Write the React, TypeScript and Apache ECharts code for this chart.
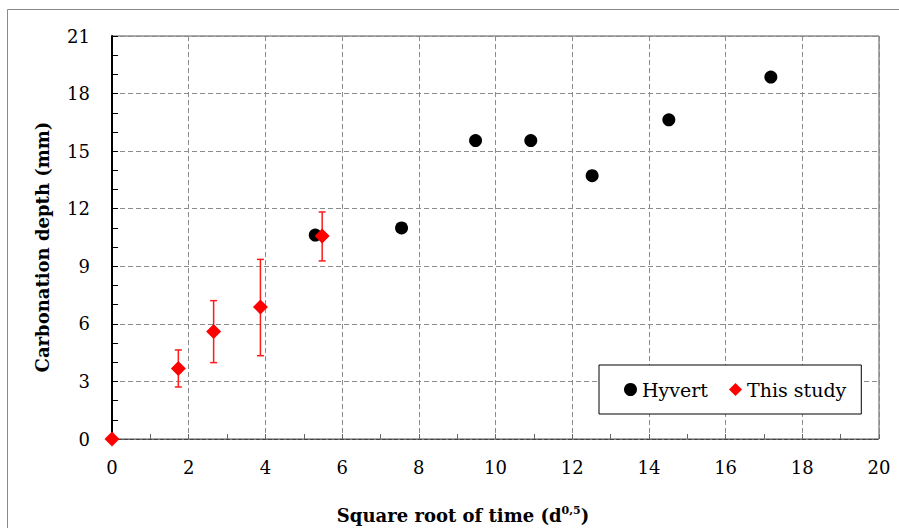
import React, { useEffect, useRef } from "react";
import * as echarts from "echarts";

const hyvertX = [5.3, 7.55, 9.48, 10.92, 12.52, 14.52, 17.18];
const hyvertY = [10.63, 11.0, 15.55, 15.55, 13.72, 16.63, 18.86];

const studyX = [0, 1.73, 2.65, 3.87, 5.48];
const studyY = [0, 3.67, 5.6, 6.88, 10.58];
const studyLow = [0, 2.71, 3.98, 4.34, 9.28];
const studyHigh = [0, 4.64, 7.21, 9.36, 11.83];

const xTitle = "Square root of time (d";
const xTitleSup = "0,5";
const yTitle = "Carbonation depth (mm)";

const FONT = "DejaVu Serif";

export default function App() {
  const ref = useRef<HTMLDivElement>(null);
  useEffect(() => {
    const chart = echarts.init(ref.current!, null, { renderer: "svg" });
    const errData = studyX
      .map((x, i) => [x, studyLow[i], studyHigh[i]])
      .filter((d) => d[2] > d[1]);
    chart.setOption({
      animation: false,
      backgroundColor: "#fff",
      textStyle: { fontFamily: FONT },
      grid: {
        left: 112,
        right: 20,
        top: 36,
        bottom: 89,
        show: true,
        borderColor: "#555",
        borderWidth: 1,
      },
      graphic: [
        {
          type: "rect",
          shape: { x: 7.5, y: 9.5, width: 1000, height: 1000 },
          style: { fill: "none", stroke: "#8a8a8a", lineWidth: 1 },
          silent: true,
          z: -1,
        },
        {
          type: "text",
          x: 463,
          y: 515,
          style: {
            text: "{b|" + xTitle + "}{sup|" + xTitleSup + "}{b|)}",
            align: "center",
            verticalAlign: "middle",
            rich: {
              b: { fontFamily: FONT, fontSize: 18, fontWeight: "bold", fill: "#000", color: "#000" },
              sup: { fontFamily: FONT, fontSize: 11, fontWeight: "bold", fill: "#000", color: "#000", verticalAlign: "top", padding: [0, 0, 9, 0] },
            },
          },
        },
        {
          type: "text",
          x: 42,
          y: 247,
          rotation: Math.PI / 2,
          style: {
            text: yTitle,
            align: "center",
            verticalAlign: "middle",
            fontFamily: FONT,
            fontSize: 18,
            fontWeight: "bold",
            fill: "#000",
          },
        },
      ],
      legend: {
        left: 599,
        top: 365,
        orient: "horizontal",
        backgroundColor: "#fff",
        borderColor: "#000",
        borderWidth: 1,
        padding: [15, 15, 15, 25],
        itemGap: 21,
        itemWidth: 13,
        itemHeight: 13,
        textStyle: { fontFamily: FONT, fontSize: 19, color: "#000" },
        data: [
          { name: "Hyvert", icon: "circle" },
          { name: "This study", icon: "diamond" },
        ],
      },
      xAxis: {
        type: "value",
        min: 0,
        max: 20,
        interval: 2,
        axisLine: { show: true, lineStyle: { color: "#444", type: "dashed", width: 1 } },
        axisTick: { show: true, inside: true, length: 5, lineStyle: { color: "#666" } },
        minorTick: { show: true, splitNumber: 2, length: 5, lineStyle: { color: "#666" } },
        axisLabel: { fontFamily: FONT, fontSize: 18, color: "#000", margin: 19 },
        splitLine: { show: true, lineStyle: { color: "#8c8c8c", type: [5, 3], width: 1 } },
      },
      yAxis: {
        type: "value",
        min: 0,
        max: 21,
        interval: 3,
        axisLine: { show: true, lineStyle: { color: "#000", width: 2 } },
        axisTick: { show: true, inside: true, length: 6, lineStyle: { color: "#000" } },
        minorTick: { show: true, splitNumber: 3, length: 6, lineStyle: { color: "#000" } },
        axisLabel: { fontFamily: FONT, fontSize: 18, color: "#000", margin: 22 },
        splitLine: { show: true, lineStyle: { color: "#8c8c8c", type: [5, 3], width: 1 } },
      },
      series: [
        {
          name: "Hyvert",
          type: "scatter",
          symbol: "circle",
          symbolSize: 13,
          itemStyle: { color: "#000", opacity: 1 },
          data: hyvertX.map((x, i) => [x, hyvertY[i]]),
          z: 3,
        },
        {
          name: "This study",
          type: "custom",
          data: errData,
          renderItem: (params: any, api: any) => {
            const x = api.value(0);
            const lo = api.coord([x, api.value(1)]);
            const hi = api.coord([x, api.value(2)]);
            const w = 3.5;
            const st = { stroke: "#ff1a1a", lineWidth: 1.5 };
            return {
              type: "group",
              children: [
                { type: "line", shape: { x1: lo[0], y1: lo[1], x2: hi[0], y2: hi[1] }, style: st },
                { type: "line", shape: { x1: lo[0] - w, y1: lo[1], x2: lo[0] + w, y2: lo[1] }, style: st },
                { type: "line", shape: { x1: hi[0] - w, y1: hi[1], x2: hi[0] + w, y2: hi[1] }, style: st },
              ],
            };
          },
          z: 4,
          itemStyle: { color: "#ff0000" },
        },
        {
          name: "This study",
          type: "scatter",
          symbol: "diamond",
          symbolSize: 15,
          itemStyle: { color: "#ff0000", opacity: 1 },
          data: studyX.map((x, i) => [x, studyY[i]]),
          z: 5,
          clip: false,
        },
      ],
    });
    return () => chart.dispose();
  }, []);
  return (
    <div
      ref={ref}
      style={{ position: "fixed", left: 0, top: 0, width: 899, height: 528 }}
    />
  );
}
